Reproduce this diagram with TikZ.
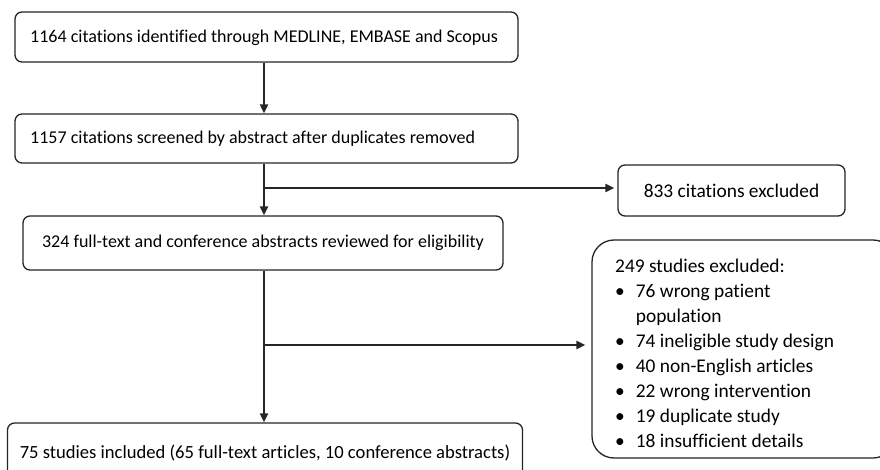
\documentclass[tikz,border=0pt]{standalone}
\usepackage{fontspec}
\setmainfont{Carlito}[Ligatures={NoCommon}]
\usetikzlibrary{arrows.meta,calc}
\begin{document}
\begin{tikzpicture}[x=1pt,y=-1pt,
  box/.style={draw=black!85, line width=1.3pt, rounded corners=7pt, inner sep=0pt,
    font=\fontsize{18}{22}\selectfont},
  txt/.style={inner sep=0pt, font=\fontsize{18}{22}\selectfont},
  conn/.style={draw=black!85, line width=2pt},
  arr/.style={conn, -{Triangle[length=9pt,width=8pt]}}]
\useasboundingbox (0,0) rectangle (880,470);
\clip (0,0) rectangle (880,470);
\fill[white] (0,0) rectangle (880,470);
\coordinate (trunk) at (264,0);
\node[box, minimum width=503pt, minimum height=50pt] (b1) at (266.5,37) {};
\node[txt, anchor=west] (b1t) at (30,38) {1164 citations identified through MEDLINE, EMBASE and Scopus};
\node[box, minimum width=503pt, minimum height=49pt] (b2) at (266.5,138.5) {};
\node[txt, anchor=west] (b2t) at (30,139) {1157 citations screened by abstract after duplicates removed};
\node[box, minimum width=480pt, minimum height=54pt, align=center] (b3) at (263,243)
  {324 full-text and conference abstracts reviewed for eligibility};
\node[box, minimum width=515pt, minimum height=60pt, align=center, font=\fontsize{18.6}{22}\selectfont] (b4) at (265,453)
  {75 studies included (65 full-text articles, 10 conference abstracts)};
\node[box, minimum width=227pt, minimum height=51pt, align=center, font=\fontsize{19.4}{22}\selectfont] (ex1) at (731.5,190.5)
  {833 citations excluded};
\node[box, rounded corners=22pt, minimum width=303pt, minimum height=218pt] (ex2) at (743.5,349) {};
\node[anchor=north west, inner sep=0pt, font=\fontsize{19.4}{25}\selectfont] (ex2t) at (615,255)
  {\begin{tabular}{@{}l@{\hspace{11pt}}l@{}}
   \multicolumn{2}{@{}l}{249 studies excluded:}\\
   \textbullet & 76 wrong patient\\
   & population\\
   \textbullet & 74 ineligible study design\\
   \textbullet & 40 non-English articles\\
   \textbullet & 22 wrong intervention\\
   \textbullet & 19 duplicate study\\
   \textbullet & 18 insufficient details
  \end{tabular}};
\coordinate (j1) at (264,188);
\coordinate (j2) at (264,345);
\draw[arr] (b1.south -| trunk) -- (b2.north -| trunk);
\draw[arr] (b2.south -| trunk) -- (b3.north -| trunk);
\draw[arr] (b3.south -| trunk) -- (b4.north -| trunk);
\draw[arr, shorten >=3pt] (j1) -- (j1 -| ex1.west);
\draw[arr, shorten >=6pt] (j2) -- (j2 -| ex2.west);
\end{tikzpicture}
\end{document}
